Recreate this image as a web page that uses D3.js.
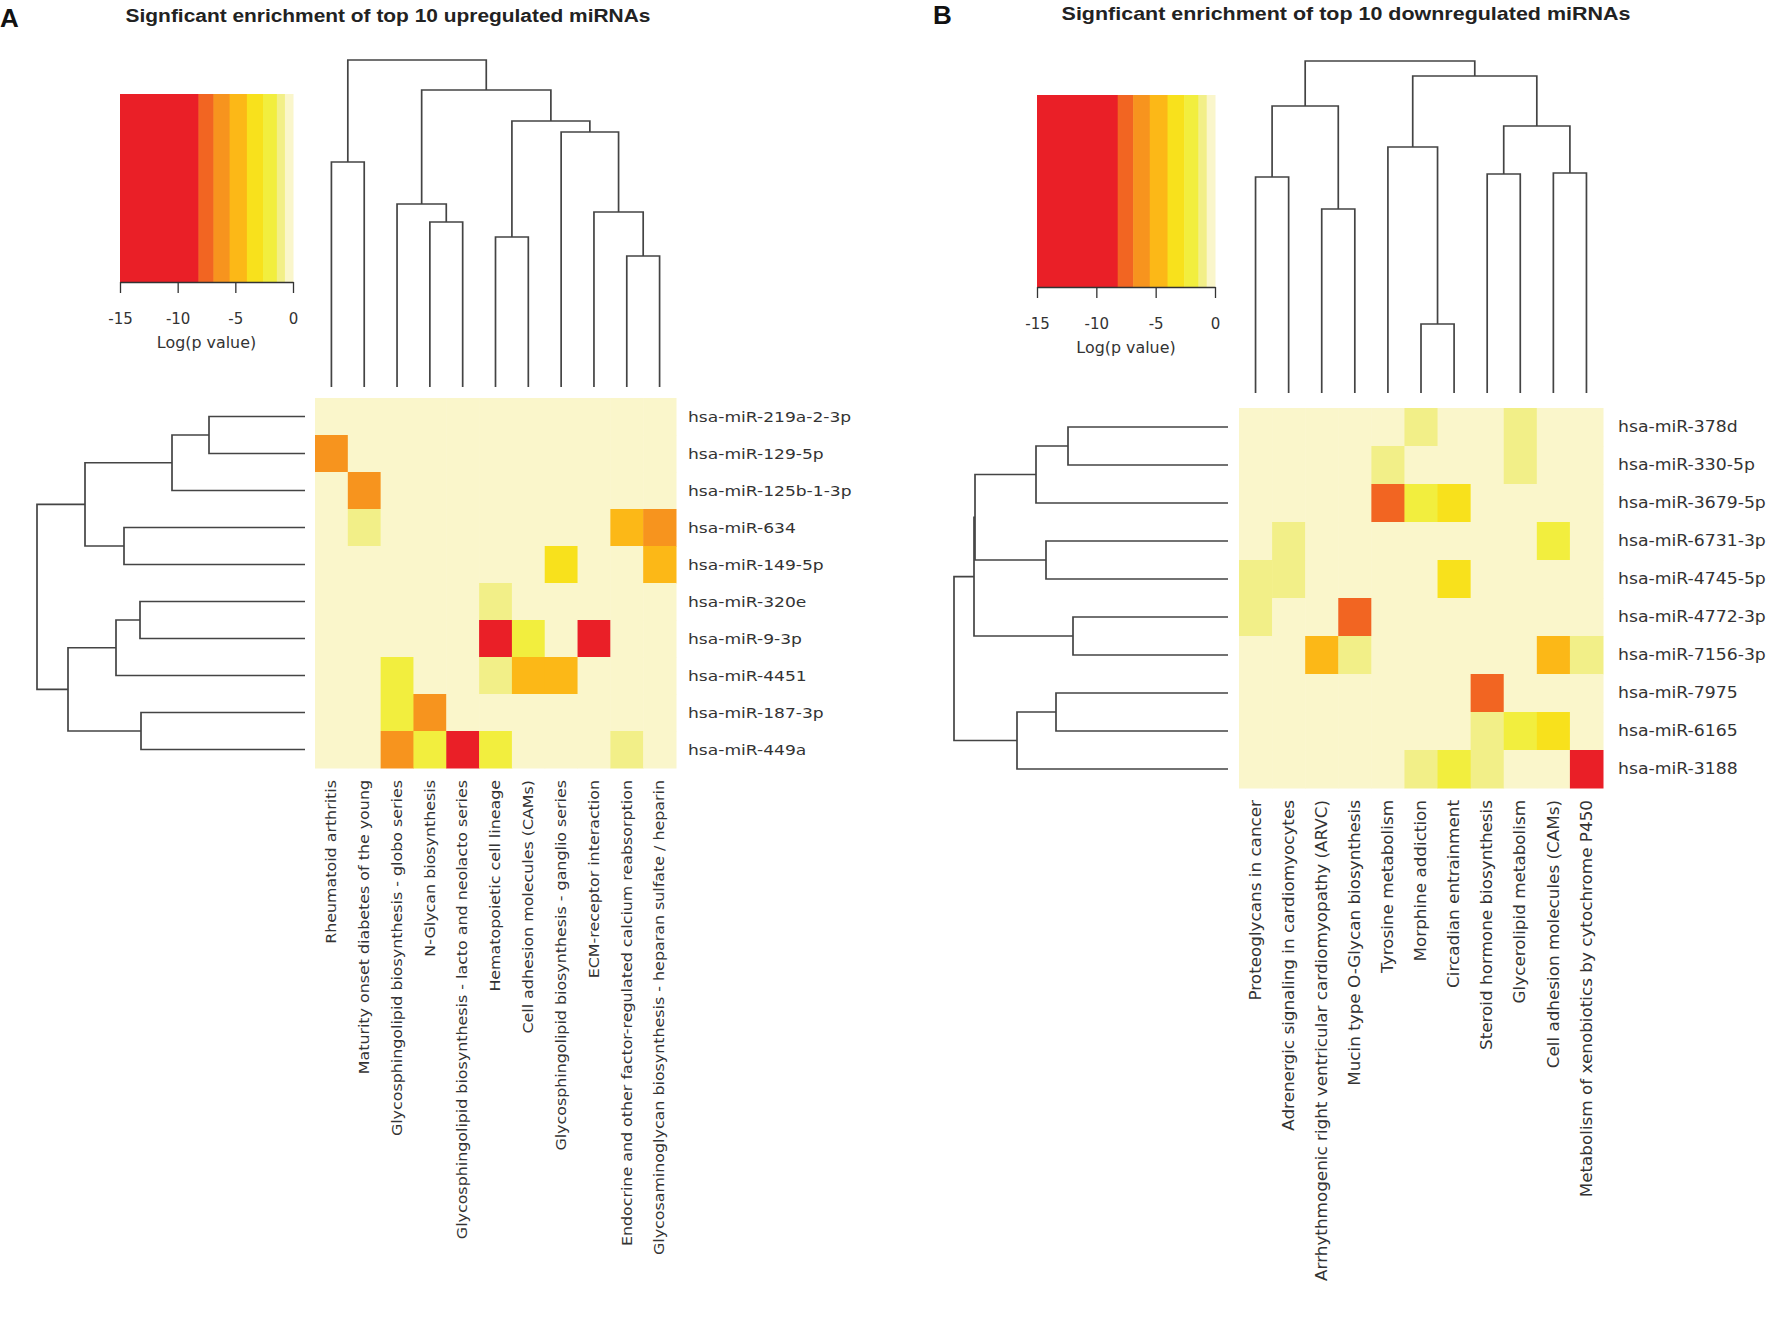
<!DOCTYPE html>
<html><head><meta charset="utf-8">
<script src="https://cdn.jsdelivr.net/npm/d3@7"></script>
<style>body{margin:0;background:#fff}svg{display:block}</style>
</head><body>
<svg id="chart" width="1772" height="1321"></svg>
<script>
// ---------- DATA ----------
const titleA = "Signficant enrichment of top 10 upregulated miRNAs";
const titleB = "Signficant enrichment of top 10 downregulated miRNAs";
const legendTitle = "Log(p value)";
const legendTicks = [-15, -10, -5, 0];

const rowsA = ["hsa-miR-219a-2-3p","hsa-miR-129-5p","hsa-miR-125b-1-3p","hsa-miR-634","hsa-miR-149-5p","hsa-miR-320e","hsa-miR-9-3p","hsa-miR-4451","hsa-miR-187-3p","hsa-miR-449a"];
const colsA = ["Rheumatoid arthritis","Maturity onset diabetes of the young","Glycosphingolipid biosynthesis - globo series","N-Glycan biosynthesis","Glycosphingolipid biosynthesis - lacto and neolacto series","Hematopoietic cell lineage","Cell adhesion molecules (CAMs)","Glycosphingolipid biosynthesis - ganglio series","ECM-receptor interaction","Endocrine and other factor-regulated calcium reabsorption","Glycosaminoglycan biosynthesis - heparan sulfate / heparin"];
// log(p value), rows x columns
const valuesA = [
  [0,0,0,0,0,0,0,0,0,0,0],
  [-6,0,0,0,0,0,0,0,0,0,0],
  [0,-6.2,0,0,0,0,0,0,0,0,0],
  [0,-1,0,0,0,0,0,0,0,-4.8,-6],
  [0,0,0,0,0,0,0,-3.3,0,0,-4.8],
  [0,0,0,0,0,-1,0,0,0,0,0],
  [0,0,0,0,0,-14,-2,0,-14,0,0],
  [0,0,-2,0,0,-1.2,-4.8,-4.8,0,0,0],
  [0,0,-2,-5.8,0,0,0,0,0,0,0],
  [0,0,-6,-2,-14,-2,0,0,0,-1,0]
];
// linkage: [childA, childB, distance]; leaves 0..n-1, merged clusters n, n+1, ...
const rowLinkA = [[0,1,0.96],[10,2,1.33],[3,4,1.81],[11,12,2.20],[5,6,1.65],[14,7,1.89],[8,9,1.64],[15,16,2.37],[13,17,2.68]];
const colLinkA = [[0,1,2.25],[3,4,1.65],[2,12,1.83],[5,6,1.50],[9,10,1.31],[8,15,1.75],[7,16,2.55],[14,17,2.66],[13,18,2.97],[11,19,3.27]];

const rowsB = ["hsa-miR-378d","hsa-miR-330-5p","hsa-miR-3679-5p","hsa-miR-6731-3p","hsa-miR-4745-5p","hsa-miR-4772-3p","hsa-miR-7156-3p","hsa-miR-7975","hsa-miR-6165","hsa-miR-3188"];
const colsB = ["Proteoglycans in cancer","Adrenergic signaling in cardiomyocytes","Arrhythmogenic right ventricular cardiomyopathy (ARVC)","Mucin type O-Glycan biosynthesis","Tyrosine metabolism","Morphine addiction","Circadian entrainment","Steroid hormone biosynthesis","Glycerolipid metabolism","Cell adhesion molecules (CAMs)","Metabolism of xenobiotics by cytochrome P450"];
const valuesB = [
  [0,0,0,0,0,-1,0,0,-1,0,0],
  [0,0,0,0,-1,0,0,0,-1,0,0],
  [0,0,0,0,-7.5,-2,-3.3,0,0,0,0],
  [0,-1,0,0,0,0,0,0,0,-2,0],
  [-1,-1,0,0,0,0,-3.3,0,0,0,0],
  [-1,0,0,-7.5,0,0,0,0,0,0,0],
  [0,0,-4.8,-1.2,0,0,0,0,0,-4.8,-1.2],
  [0,0,0,0,0,0,0,-7.5,0,0,0],
  [0,0,0,0,0,0,0,-1,-2,-3.3,0],
  [0,0,0,0,0,-1.2,-2,-1.2,0,0,-14]
];
const rowLinkB = [[0,1,1.60],[10,2,1.92],[3,4,1.82],[11,12,2.53],[5,6,1.55],[13,14,2.54],[7,8,1.72],[16,9,2.11],[15,17,2.74]];
const colLinkB = [[0,1,2.16],[2,3,1.84],[11,12,2.87],[5,6,0.69],[4,14,2.46],[7,8,2.19],[9,10,2.20],[16,17,2.67],[15,18,3.17],[13,19,3.32]];

// colour steps of the log(p) legend
const colorBreaks = [-8.2, -6.9, -5.5, -4.0, -2.6, -1.4, -0.7];
const colorSteps = ["#ea1f27","#f26522","#f7941e","#fcb817","#f8e11c","#f2ee3e","#f2ef88","#faf6cb"];

// ---------- DRAW ----------
const svg = d3.select("#chart");
svg.append("rect").attr("width",1772).attr("height",1321).attr("fill","#fff");
const color = d3.scaleThreshold().domain(colorBreaks).range(colorSteps);
const LABEL_FONT = "'DejaVu Sans', sans-serif";
const TITLE_FONT = "'Liberation Sans', Arial, sans-serif";
const INK = "#333";

function drawPanel(p) {
  const g = svg.append("g");
  // panel letter & title
  g.append("text").attr("x", p.letter[0]).attr("y", p.letter[1])
    .attr("font-family", TITLE_FONT).attr("font-weight","bold")
    .attr("font-size", 26).attr("fill","#111").text(p.letterText);
  g.append("text").attr("transform", `translate(${p.title[0]},${p.title[1]}) scale(${p.titleStretch},1)`)
    .attr("text-anchor","middle")
    .attr("font-family", TITLE_FONT).attr("font-weight","bold")
    .attr("font-size", p.titleSize).attr("fill","#222").text(p.titleText);

  // scales
  const x = d3.scaleBand().domain(d3.range(p.cols.length)).range([p.hm.x, p.hm.x + p.hm.w]);
  const y = d3.scaleBand().domain(d3.range(p.rows.length)).range([p.hm.y, p.hm.y + p.hm.h]);

  // heatmap cells
  const cells = [];
  p.values.forEach((row, r) => row.forEach((v, c) => cells.push({r, c, v})));
  g.append("g").selectAll("rect").data(cells).join("rect")
    .attr("x", d => x(d.c)).attr("y", d => y(d.r))
    .attr("width", x.bandwidth() + 0.5).attr("height", y.bandwidth() + 0.5)
    .attr("fill", d => color(d.v));

  // row labels
  g.append("g").selectAll("text").data(p.rows).join("text")
    .attr("transform", (d, i) => `translate(${p.rowLabelX},${y(i) + y.bandwidth() / 2}) scale(${p.rowStretch},1)`)
    .attr("dominant-baseline","central")
    .attr("font-family", LABEL_FONT).attr("font-size", p.labelSize).attr("fill", INK)
    .text(d => d);

  // column labels
  g.append("g").selectAll("text").data(p.cols).join("text")
    .attr("transform", (d, i) => `translate(${x(i) + x.bandwidth() / 2},${p.colLabelY}) rotate(-90) scale(${p.colStretch},1)`)
    .attr("text-anchor","end").attr("dominant-baseline","central")
    .attr("font-family", LABEL_FONT).attr("font-size", p.labelSize).attr("fill", INK)
    .text(d => d);

  // dendrograms
  function dendro(link, n, leafPos, hScale, vertical) {
    const pos = d3.range(n).map(leafPos);
    const ht = d3.range(n).map(() => 0);
    const segs = [];
    link.forEach(([a, b, h]) => {
      segs.push([[pos[a], ht[a]], [pos[a], h], [pos[b], h], [pos[b], ht[b]]]);
      pos.push((pos[a] + pos[b]) / 2);
      ht.push(h);
    });
    const line = d3.line()
      .x(d => vertical ? d[0] : hScale(d[1]))
      .y(d => vertical ? hScale(d[1]) : d[0]);
    g.append("g").selectAll("path").data(segs).join("path")
      .attr("d", line).attr("fill","none").attr("stroke","#444").attr("stroke-width",1.7);
  }
  const colH = d3.scaleLinear().domain([0, d3.max(p.colLink, d => d[2])]).range([p.colDend.leaf, p.colDend.root]);
  dendro(p.colLink, p.cols.length, i => x(i) + x.bandwidth() / 2, colH, true);
  const rowH = d3.scaleLinear().domain([0, d3.max(p.rowLink, d => d[2])]).range([p.rowDend.leaf, p.rowDend.root]);
  dendro(p.rowLink, p.rows.length, i => y(i) + y.bandwidth() / 2, rowH, false);

  // colour legend
  const L = p.legend;
  const lx = d3.scaleLinear().domain([legendTicks[0], legendTicks[legendTicks.length - 1]]).range([L.x, L.x + L.w]);
  const edges = [legendTicks[0], ...colorBreaks, legendTicks[legendTicks.length - 1]];
  const bands = d3.range(edges.length - 1).map(i => ({lo: edges[i], hi: edges[i + 1]}));
  g.append("g").selectAll("rect").data(bands).join("rect")
    .attr("x", d => lx(d.lo)).attr("y", L.y)
    .attr("width", d => lx(d.hi) - lx(d.lo) + 0.5).attr("height", L.h)
    .attr("fill", d => color((d.lo + d.hi) / 2));
  const ax = g.append("g").attr("transform", `translate(0,${L.y + L.h})`)
    .call(d3.axisBottom(lx).tickValues(legendTicks).tickFormat(d => String(d))
      .tickSize(11).tickSizeOuter(0).tickPadding(20));
  ax.select(".domain").attr("stroke","#333").attr("stroke-width",1.5);
  ax.selectAll(".tick line").attr("stroke","#333").attr("stroke-width",1.3);
  ax.selectAll(".tick text").attr("font-family", LABEL_FONT).attr("font-size", 15).attr("fill", INK);
  g.append("text").attr("transform", `translate(${L.x + L.w / 2},${L.y + L.h + 66}) scale(1.06,1)`)
    .attr("text-anchor","middle")
    .attr("font-family", LABEL_FONT).attr("font-size", 15).attr("fill", INK).text(legendTitle);
}

drawPanel({
  letterText: "A", letter: [0, 27], titleText: titleA, title: [388, 22], titleSize: 19, titleStretch: 1.10,
  rows: rowsA, cols: colsA, values: valuesA, rowLink: rowLinkA, colLink: colLinkA,
  hm: {x: 315, y: 398, w: 361, h: 370},
  rowDend: {leaf: 305, root: 37}, colDend: {leaf: 387, root: 60},
  legend: {x: 120, y: 94, w: 173, h: 188},
  rowLabelX: 688, colLabelY: 780, labelSize: 14.5, rowStretch: 1.18, colStretch: 1.095
});
drawPanel({
  letterText: "B", letter: [933, 24], titleText: titleB, title: [1346, 20], titleSize: 19, titleStretch: 1.13,
  rows: rowsB, cols: colsB, values: valuesB, rowLink: rowLinkB, colLink: colLinkB,
  hm: {x: 1239, y: 408, w: 364, h: 380},
  rowDend: {leaf: 1228, root: 954}, colDend: {leaf: 393, root: 61},
  legend: {x: 1037, y: 95, w: 178, h: 192},
  rowLabelX: 1618, colLabelY: 800, labelSize: 15, rowStretch: 1.15, colStretch: 1.12
});
</script>
</body></html>
